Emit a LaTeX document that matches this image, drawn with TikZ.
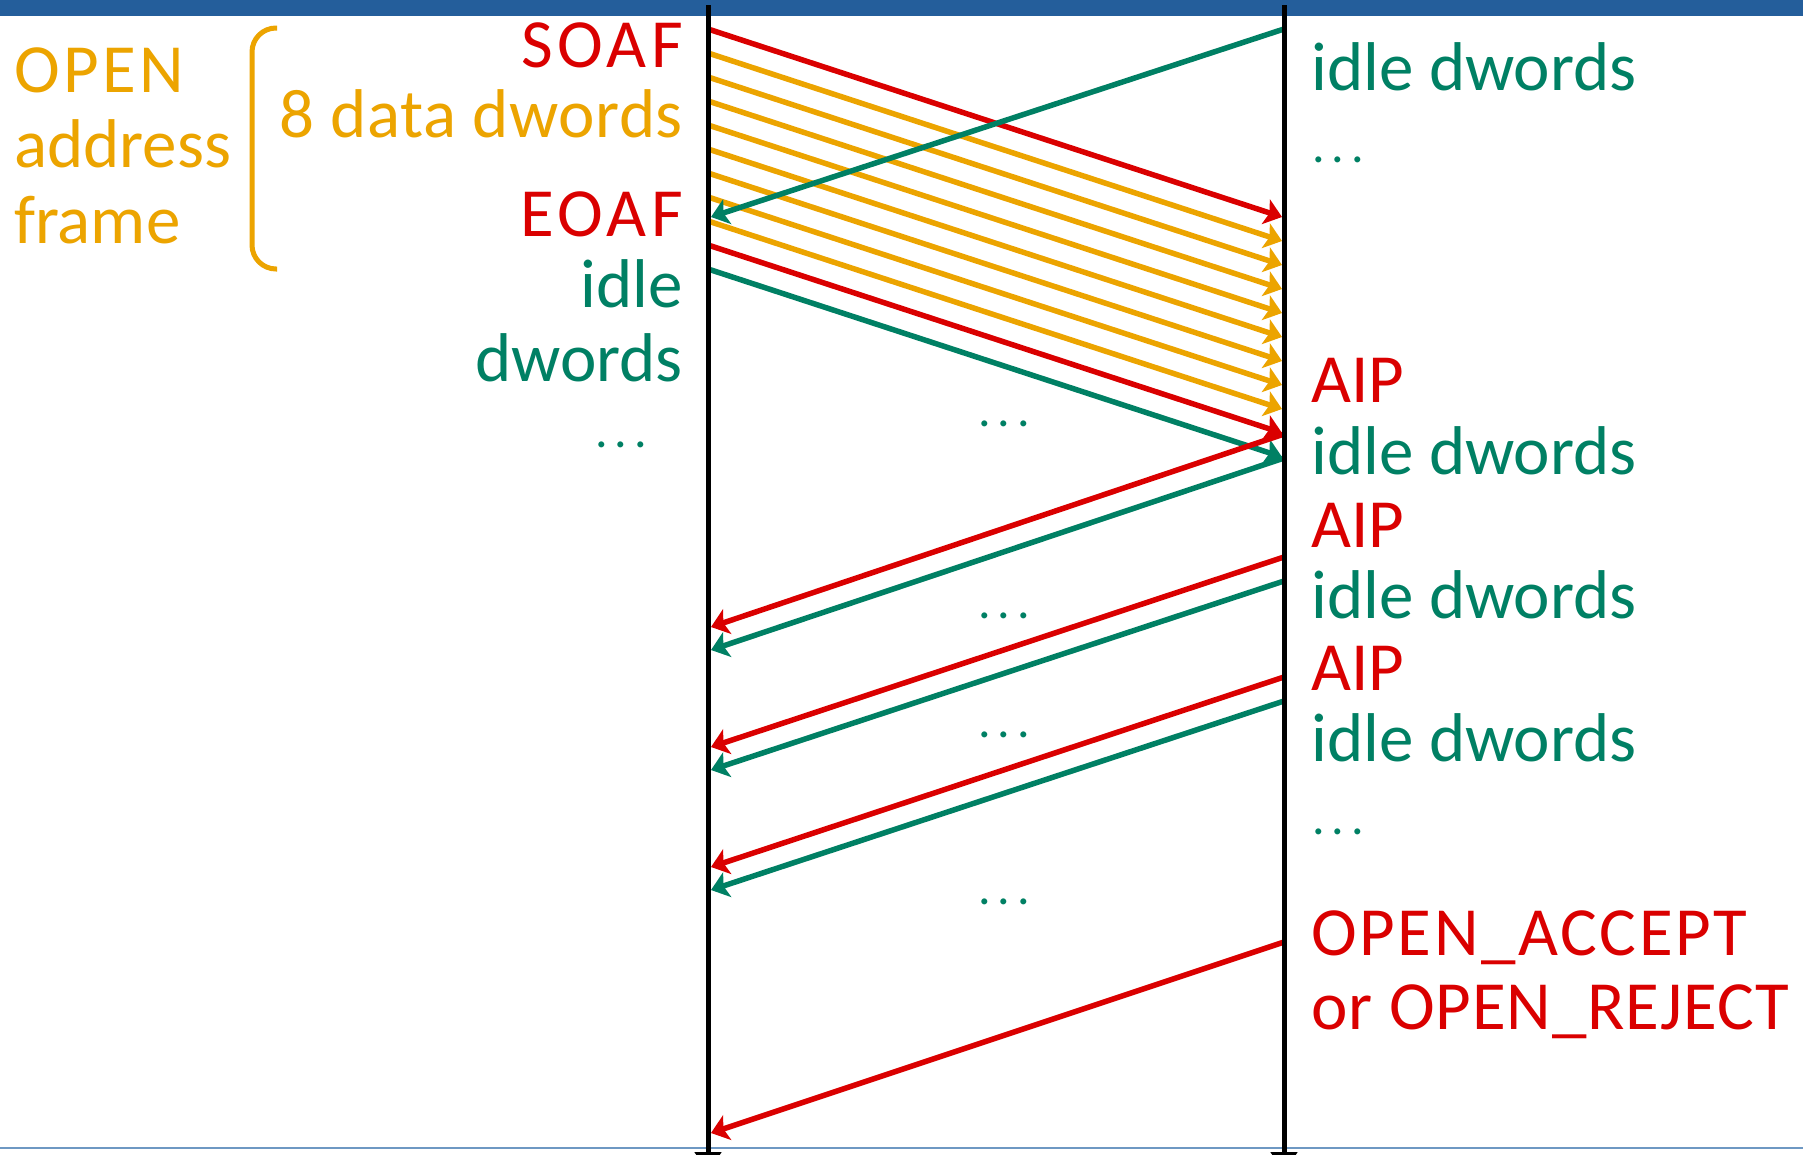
\documentclass[tikz,border=0pt]{standalone}
\usepackage{fontspec}
\setmainfont{Carlito}
\usetikzlibrary{arrows.meta}
\definecolor{cred}{RGB}{218,0,0}
\definecolor{corange}{RGB}{236,164,0}
\definecolor{cgreen}{RGB}{0,128,100}
\definecolor{cbar}{RGB}{36,94,155}
\definecolor{cbot}{RGB}{110,152,195}
\newcommand{\tdots}{.\kern7pt.\kern7pt.}
\begin{document}
\begin{tikzpicture}[x=1pt,y=-1pt,
  lbl/.style={inner sep=0pt, font=\fontsize{69}{75}\selectfont},
  capsl/.style={font=\fontsize{69}{75}\selectfont\addfontfeatures{LetterSpace=3.8}},
  capsn/.style={font=\fontsize{69}{75}\selectfont\addfontfeatures{LetterSpace=1.3}},
  capsw/.style={font=\fontsize{69}{75}\selectfont\addfontfeatures{LetterSpace=6.5}},
  lblL/.style={lbl, anchor=base east},
  lblR/.style={lbl, anchor=base west},
  dotsty/.style={inner sep=0pt, text=cgreen, font=\fontsize{50}{60}\selectfont},
  msg/.style={line width=5.5pt, -{Stealth[length=17pt,width=26pt,inset=4pt]}},
  lifeline/.style={line width=5pt, black, -{Triangle[length=20pt,width=26pt]}}
]
\clip (0,0) rectangle (1803,1154);
\fill[white] (0,0) rectangle (1803,1154);
% top bar and bottom rule
\fill[cbar] (0,0) rectangle (1803,16);
\draw[cbot, line width=2.5pt] (0,1148) -- (1803,1148);

% lifelines
\coordinate (Ltop) at (708,5);
\coordinate (Lbot) at (708,1172);
\coordinate (Rtop) at (1284,5);
\coordinate (Rbot) at (1284,1172);

% downward messages
\foreach \k/\c in {0/cred,1/corange,2/corange,3/corange,4/corange,5/corange,6/corange,7/corange,8/corange,9/cred,10/cgreen}{
  \coordinate (dl\k) at (708,{29+24*\k});
  \coordinate (dr\k) at (1282,{217+24*\k});
  \draw[msg,\c] (dl\k) -- (dr\k);
}

% upward messages
\foreach \n/\ys/\ye/\c in {a/29/217/cgreen, b/434/627/cred, c/458/650/cgreen, d/557/747/cred, e/581/770/cgreen, f/677/867/cred, g/701/890/cgreen, h/942/1133/cred}{
  \coordinate (ur\n) at (1284,\ys);
  \coordinate (ul\n) at (711,\ye);
  \draw[msg,\c] (ur\n) -- (ul\n);
}

\draw[lifeline] (Ltop) -- (Lbot);
\draw[lifeline] (Rtop) -- (Rbot);

% brace
\draw[corange, line width=5pt, rounded corners=24pt] (277,28) -- (252,28) -- (252,269) -- (277,269);

% far-left labels
\node[lblR, text=corange] (open) at (14,92) {\addfontfeatures{LetterSpace=5}OPEN};
\node[lblR, text=corange] (address) at (14,167) {address};
\node[lblR, text=corange] (frame) at (14,243) {frame};

% left labels
\node[lblL, text=cred, capsw] (soaf) at (683,67) {SOAF};
\node[lblL, text=corange] (data) at (683,137) {\addfontfeatures{LetterSpace=0.8}8 data dwords};
\node[lblL, text=cred, capsw] (eoaf) at (683,236) {EOAF};
\node[lblL, text=cgreen] (idleL) at (683,307) {idle};
\node[lblL, text=cgreen] (dwordsL) at (683,381) {dwords};
\node[dotsty, anchor=base] (dotsL) at (621,447) {\tdots};

% right labels
\node[lblR, text=cgreen] (idleR1) at (1311,90) {idle dwords};
\node[dotsty, anchor=base west] (dotsR1) at (1312,162) {\tdots};
\node[lblR, text=cred] (aip1) at (1311,402) {AIP};
\node[lblR, text=cgreen] (idleR2) at (1311,474) {idle dwords};
\node[lblR, text=cred] (aip2) at (1311,547) {AIP};
\node[lblR, text=cgreen] (idleR3) at (1311,618) {idle dwords};
\node[lblR, text=cred] (aip3) at (1311,690) {AIP};
\node[lblR, text=cgreen] (idleR4) at (1311,761) {idle dwords};
\node[dotsty, anchor=base west] (dotsR2) at (1312,834) {\tdots};
\node[lblR, text=cred, capsl] (accept) at (1311,955) {OPEN\_ACCEPT};
\node[lblR, text=cred, capsn] (reject) at (1311,1029) {or OPEN\_REJECT};

% middle dots
\node[dotsty, anchor=base] (m1) at (1004,426) {\tdots};
\node[dotsty, anchor=base] (m2) at (1004,618) {\tdots};
\node[dotsty, anchor=base] (m3) at (1004,737) {\tdots};
\node[dotsty, anchor=base] (m4) at (1004,904) {\tdots};
\end{tikzpicture}
\end{document}
